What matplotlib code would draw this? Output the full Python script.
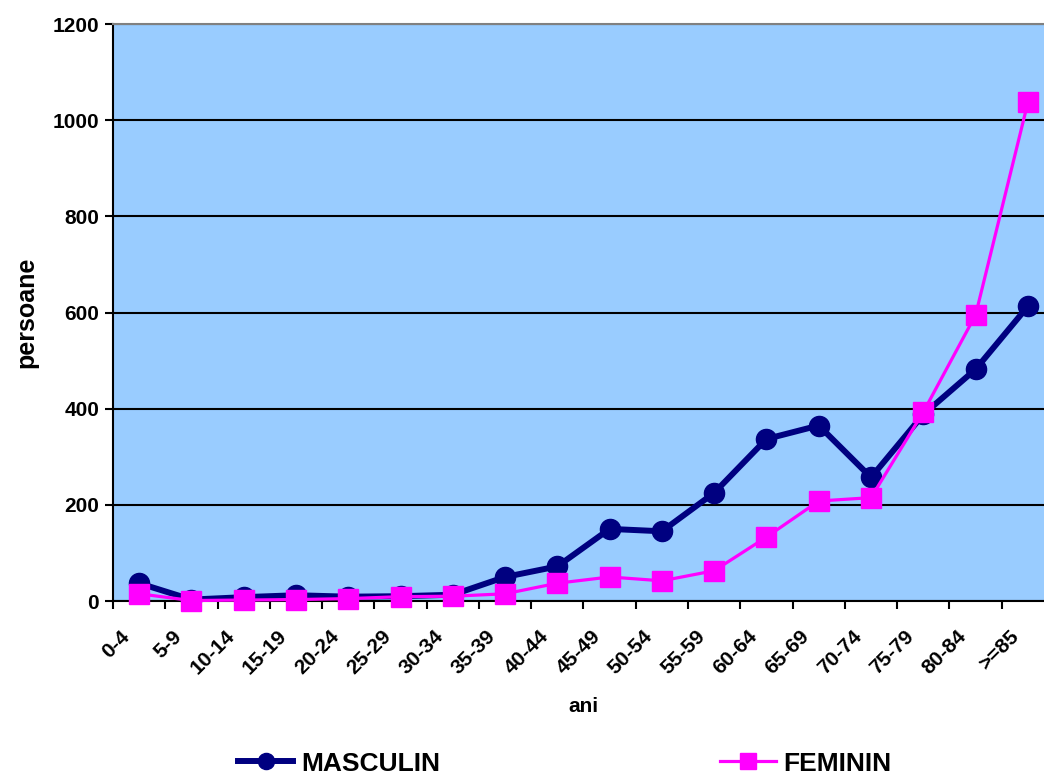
import matplotlib.pyplot as plt
import numpy as np

plt.rcParams['font.family'] = ['Liberation Sans', 'DejaVu Sans']
plt.rcParams['font.weight'] = 'bold'

grupe = ['0-4', '5-9', '10-14', '15-19', '20-24', '25-29', '30-34', '35-39',
         '40-44', '45-49', '50-54', '55-59', '60-64', '65-69', '70-74',
         '75-79', '80-84', '>=85']
masculin = [37, 3, 8, 12, 9, 10, 13, 50, 72, 150, 145, 225, 337, 365, 257,
            388, 482, 613]
feminin = [15, 1, 2, 3, 5, 9, 10, 15, 37, 50, 42, 63, 133, 208, 215, 393,
           595, 1037]


def main():
    fig = plt.figure(figsize=(10.44, 7.76), dpi=100)
    # plot area runs a bit past the right edge, like the original
    ax = fig.add_axes([0.1082, 0.2255, 0.9014, 0.7435])
    ax.set_facecolor('#99CCFF')

    x = np.arange(len(grupe))
    ax.plot(x, masculin, color='#000080', lw=4.3, marker='o', ms=14.5,
            label='MASCULIN', zorder=3, clip_on=False)
    ax.plot(x, feminin, color='#FF00FF', lw=2.3, marker='s', ms=14.5,
            label='FEMININ', zorder=4, clip_on=False)

    ax.set_xlim(-0.5, len(grupe) - 0.5)
    ax.set_ylim(0, 1200)
    ax.set_yticks(np.arange(0, 1201, 200))
    ax.yaxis.grid(True, color='black', lw=1.5)
    ax.set_axisbelow(True)

    # tick marks between categories, labels drawn at the centres
    ax.set_xticks(np.arange(-0.5, len(grupe), 1.0))
    ax.set_xticklabels([])
    ax.tick_params(axis='x', length=6, width=1.5, direction='out')
    ax.tick_params(axis='y', length=6, width=1.5, labelsize=15, pad=4)
    for i, g in enumerate(grupe):
        ax.annotate(g, xy=(i, 0), xycoords=('data', 'axes fraction'),
                    xytext=(-6, -26), textcoords='offset points',
                    rotation=45, rotation_mode='anchor', ha='right',
                    va='baseline', fontsize=15, fontweight='bold')

    ax.spines['right'].set_visible(False)
    ax.spines['top'].set_color('#808080')
    ax.spines['top'].set_linewidth(1.5)
    for s in ['left', 'bottom']:
        ax.spines[s].set_linewidth(1.5)

    ax.set_ylabel('persoane', fontsize=18, fontweight='bold', labelpad=10)
    fig.text(583 / 1044, 1 - 707 / 776, 'ani', ha='center', va='center',
             fontsize=15, fontweight='bold')

    fig.legend(loc='center', bbox_to_anchor=(0.541, 0.016), ncol=2,
               frameon=False, handlelength=2.1, columnspacing=10.6,
               handletextpad=0.3, markerscale=0.8,
               prop={'weight': 'bold', 'size': 19})

    fig.savefig('out.png', dpi=100)


if __name__ == '__main__':
    main()
